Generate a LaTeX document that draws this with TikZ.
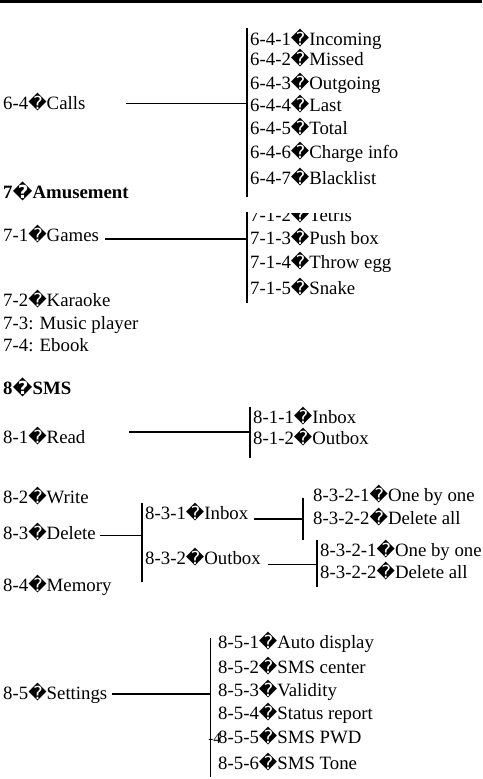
\documentclass[tikz,border=0pt]{standalone}
\usepackage{fontspec}
\setmainfont{Liberation Serif}
\newfontfamily\dvsfont{DejaVu Sans}
\newcommand\qd{{\dvsfont\fontsize{18}{18}\selectfont\char"FFFD}}
\begin{document}
\begin{tikzpicture}[x=1pt,y=-1pt,
  txt/.style={anchor=base west, inner sep=0pt, font=\fontsize{18.8}{23}\selectfont},
  bold/.style={txt, font=\fontsize{18.8}{23}\selectfont\bfseries},
  thinline/.style={line width=1pt},
  midline/.style={line width=1.5pt},
  thickline/.style={line width=2pt}]
\useasboundingbox (0,0) rectangle (482,779);
\fill (0,0) rectangle (482,2.5);

% 6-4 Calls
\node[txt] (n64) at (3,109.5) {6-4\qd Calls};
\coordinate (v1t) at (247,28);
\coordinate (v1b) at (247,197);
\coordinate (h1) at (126,103);
\draw[thickline] (v1t) -- (v1b);
\draw[thinline] (h1) -- (h1 -| v1t);
\node[txt] (n641) at (250,45) {6-4-1\qd Incoming};
\node[txt] (n642) at (250,65.5) {6-4-2\qd Missed};
\node[txt] (n643) at (250,89) {6-4-3\qd Outgoing};
\node[txt] (n644) at (250,111) {6-4-4\qd Last};
\node[txt] (n645) at (250,134) {6-4-5\qd Total};
\node[txt] (n646) at (250,158) {6-4-6\qd Charge info};
\node[txt] (n647) at (250,184) {6-4-7\qd Blacklist};

% 7 Amusement
\node[bold] (n7) at (3,198) {7\qd Amusement};
\node[txt] (n71) at (3,241.5) {7-1\qd Games};
\coordinate (v2t) at (247,212);
\coordinate (v2b) at (247,303);
\coordinate (h2) at (105,239);
\draw[thickline] (v2t) -- (v2b);
\draw[thickline] (h2) -- (h2 -| v2t);
\begin{scope}
\clip (240,213) rectangle (482,230);
\node[txt] (n712) at (250,221) {7-1-2\qd Tetris};
\end{scope}
\node[txt] (n713) at (250,244.5) {7-1-3\qd Push box};
\node[txt] (n714) at (250,268.5) {7-1-4\qd Throw egg};
\node[txt] (n715) at (250,294.5) {7-1-5\qd Snake};
\node[txt] (n72) at (3,306.5) {7-2\qd Karaoke};
\node[txt] (n73) at (3,329.5) {7-3: Music player};
\node[txt] (n74) at (3,351.5) {7-4: Ebook};

% 8 SMS
\node[bold] (n8) at (3,394.5) {8\qd SMS};
\node[txt] (n81) at (3,443.5) {8-1\qd Read};
\coordinate (v3t) at (250,407);
\coordinate (v3b) at (250,458);
\coordinate (h3) at (129,432);
\draw[thickline] (v3t) -- (v3b);
\draw[line width=2.5pt] (h3) -- (h3 -| v3t);
\node[txt] (n811) at (253,423) {8-1-1\qd Inbox};
\node[txt] (n812) at (253,444.5) {8-1-2\qd Outbox};

\node[txt] (n82) at (3,503.5) {8-2\qd Write};
\node[txt] (n83) at (3,539.5) {8-3\qd Delete};
\node[txt] (n84) at (3,591.5) {8-4\qd Memory};
\coordinate (v4t) at (142,503);
\coordinate (v4b) at (142,582);
\coordinate (h4) at (100,535);
\draw[midline] (v4t) -- (v4b);
\draw[thinline] (h4) -- (h4 -| v4t);
\node[txt] (n831) at (145,519.5) {8-3-1\qd Inbox};
\node[txt] (n832) at (145,564.5) {8-3-2\qd Outbox};

\coordinate (v5t) at (303,498);
\coordinate (v5b) at (303,540);
\coordinate (h5) at (254,519);
\draw[midline] (v5t) -- (v5b);
\draw[thickline] (h5) -- (h5 -| v5t);
\node[txt] (n8311) at (313,501.5) {8-3-2-1\qd One by one};
\node[txt] (n8312) at (313,524.5) {8-3-2-2\qd Delete all};

\coordinate (v6t) at (317,540);
\coordinate (v6b) at (317,587);
\coordinate (h6) at (268,564);
\draw[midline] (v6t) -- (v6b);
\draw[thinline] (h6) -- (h6 -| v6t);
\node[txt] (n8321) at (320,556.5) {8-3-2-1\qd One by one};
\node[txt] (n8322) at (320,578.5) {8-3-2-2\qd Delete all};

% 8-5 Settings
\node[txt] (n85) at (3,699.5) {8-5\qd Settings};
\coordinate (v7t) at (210,638);
\coordinate (v7b) at (210,777);
\coordinate (h7) at (112,694);
\draw[thinline] (v7t) -- (v7b);
\draw[thickline] (h7) -- (h7 -| v7t);
\node[txt] (n851) at (218,648.5) {8-5-1\qd Auto display};
\node[txt] (n852) at (218,673.5) {8-5-2\qd SMS center};
\node[txt] (n853) at (218,696.5) {8-5-3\qd Validity};
\node[txt] (n854) at (218,719.5) {8-5-4\qd Status report};
\node[txt] (n855) at (218,743.5) {8-5-5\qd SMS PWD};
\node[txt] (n856) at (218,769.5) {8-5-6\qd SMS Tone};
\node[anchor=base east, inner sep=0pt, font=\fontsize{15}{15}\selectfont] (pg) at (221,743.5) {-4};
\end{tikzpicture}
\end{document}
